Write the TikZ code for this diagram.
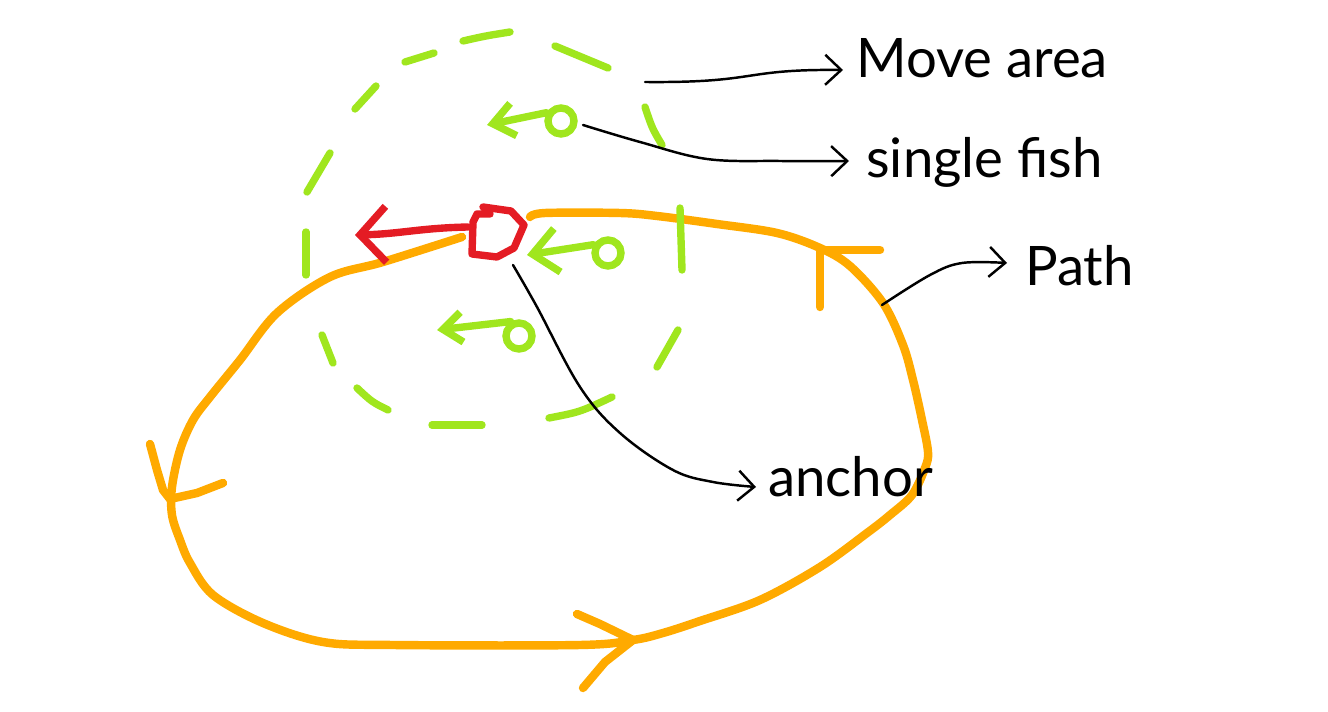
\documentclass[tikz,border=0pt]{standalone}
\usepackage{fontspec}
\setmainfont{Lato}
\usetikzlibrary{arrows.meta}
\definecolor{fishgreen}{RGB}{160,230,30}
\definecolor{pathorange}{RGB}{255,170,0}
\definecolor{anchorred}{RGB}{228,28,36}
\begin{document}
\begin{tikzpicture}[x=0.02cm,y=-0.02cm,
  lbl/.style={font=\fontsize{31}{37}\selectfont, inner sep=0pt, anchor=base west},
  callout/.style={black, line width=1.4pt, line cap=round, line join=round,
    -{Straight Barb[length=0.32cm,width=0.6cm]}},
  area/.style={fishgreen, line width=4.2pt, line cap=round},
  fishline/.style={fishgreen, line width=4.2pt, line cap=round, line join=round},
  fishhead/.style={draw=fishgreen, line width=4.2pt, circle, minimum size=0.52cm, inner sep=0pt},
  route/.style={pathorange, line width=4.8pt, line cap=round, line join=round},
  redmark/.style={anchorred, line width=4.2pt, line cap=round, line join=round}]
\useasboundingbox (0,0) rectangle (1328,712);

% orange path
\draw[route] plot[smooth, tension=0.55] coordinates {(530,217) (545,213) (620,213) (657,216) (717,224) (777,233) (820,248) (850,266) (883,303) (903,345) (913,380) (922,420) (928,452) (925,468) (912,495) (890,515) (867,533) (820,567) (760,600) (700,621) (663,633) (633,640) (580,645) (393,645) (323,642) (263,623) (213,595) (190,563) (180,540) (172,515) (172,487) (180,450) (193,420) (210,397) (240,360) (277,313) (330,277) (383,262) (462,237)};
% orange arrow marks
\draw[route] (150,444) -- (157,470) -- (163,490) -- (170,499) -- (197,493) -- (223,483);
\draw[route] (577,614) -- (600,624) -- (633,640) -- (605,662) -- (583,688);
\draw[route] (880,250) -- (820,250) -- (820,307);

% move area (dashed circle)
\draw[area] (405,62) -- (434,53);
\draw[area] (463,41) .. controls (485,36) .. (510,32);
\draw[area] (555,46) -- (608,68);
\draw[area] (355,109) -- (376,86);
\draw[area] (645,107) .. controls (652,128) .. (662,145);
\draw[area] (307,192) -- (330,153);
\draw[area] (306,232) -- (306,275);
\draw[area] (680,208) -- (682,270);
\draw[area] (322,335) -- (333,363);
\draw[area] (678,330) -- (657,367);
\draw[area] (357,388) .. controls (372,402) .. (388,410);
\draw[area] (432,425) -- (482,425);
\draw[area] (549,418) .. controls (580,412) .. (612,397);

% fishes
\node[fishhead] (fishA) at (561,121) {};
\node[fishhead] (fishB) at (608,253) {};
\node[fishhead] (fishC) at (519,336) {};
\coordinate (fishAtip) at (487,125);
\coordinate (fishBtip) at (527,255);
\coordinate (fishCtip) at (437,330);
\draw[fishline, -{Straight Barb[length=0.42cm,width=0.66cm]}] (fishA.150) -- (fishAtip);
\draw[fishline, -{Straight Barb[length=0.5cm,width=0.88cm]}] (fishB.150) -- (fishBtip);
\draw[fishline, -{Straight Barb[length=0.38cm,width=0.6cm]}] (fishC.120) -- (fishCtip);

% anchor (red)
\draw[redmark] (483,207) -- (511,211) -- (524,225) -- (514,248) -- (497,257) -- (472,254) -- (473,222) -- (477,214) -- (490,214);
\coordinate (anchorPt) at (498,234);
\coordinate (redtip) at (355,235);
\draw[redmark, -{Straight Barb[length=0.52cm,width=1.12cm]}] (468,227) .. controls (420,228) and (400,234) .. (redtip);

% labels
\node[lbl] (moveLbl) at (856,78) {Move area};
\node[lbl] (fishLbl) at (866,178) {single fish};
\node[lbl] (pathLbl) at (1025,286) {Path};
\node[lbl] (anchorLbl) at (768,497) {anchor};

% callouts
\coordinate (maStart) at (645,82);
\coordinate (maEnd) at (843,70);
\coordinate (sfStart) at (583,125);
\coordinate (sfEnd) at (849,161);
\coordinate (paStart) at (882,305);
\coordinate (paEnd) at (1007,263);
\coordinate (anStart) at (513,265);
\coordinate (anEnd) at (756,487);
\draw[callout] (maStart) .. controls (760,83) and (740,69) .. (maEnd);
\draw[callout] plot[smooth, tension=0.6] coordinates {(sfStart) (640,142) (707,159) (780,161) (sfEnd)};
\draw[callout] plot[smooth, tension=0.6] coordinates {(paStart) (930,275) (962,263) (paEnd)};
\draw[callout] plot[smooth, tension=0.6] coordinates {(anStart) (537,307) (580,387) (620,433) (673,470) (713,482) (anEnd)};
\end{tikzpicture}
\end{document}
